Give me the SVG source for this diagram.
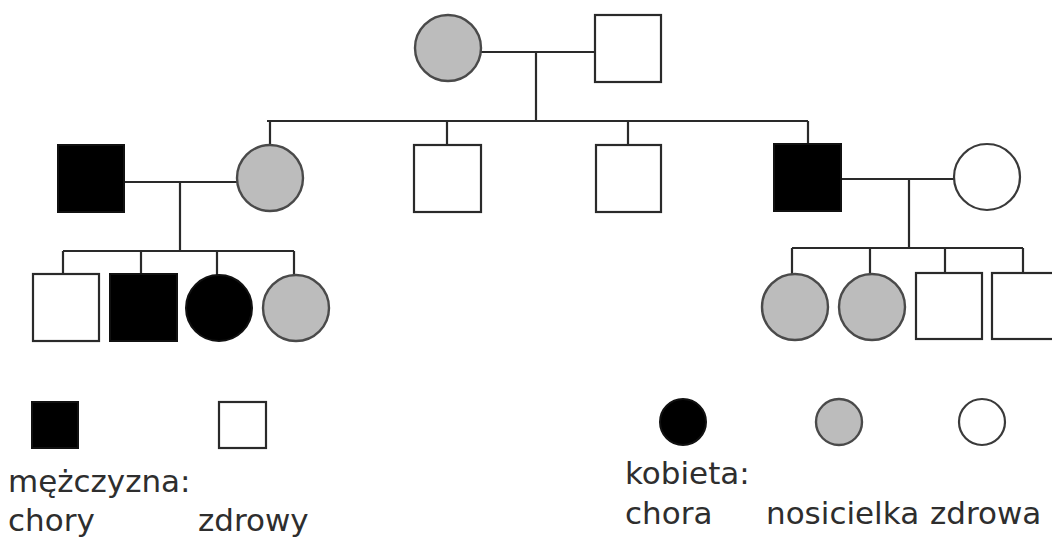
<svg xmlns="http://www.w3.org/2000/svg" width="1052" height="537" viewBox="0 0 1052 537">
<style>
.ln{stroke:#2a2a2a;stroke-width:2.2;fill:none}
.sq{fill:#fff;stroke:#2a2a2a;stroke-width:2.2}
.sqb{fill:#000;stroke:#111;stroke-width:2}
.cg{fill:#bcbcbc;stroke:#4a4a4a;stroke-width:2.4}
.cw{fill:#fff;stroke:#3a3a3a;stroke-width:2.2}
.cb{fill:#000;stroke:#111;stroke-width:2}
.t{font-family:"DejaVu Sans",sans-serif;font-size:31px;fill:#2e2e2e}
</style>
<rect width="1052" height="537" fill="#fff"/>
<g id="connectors">
<path class="ln" d="M481 52H594M536 52V121M267 121H808M270 121V145M447 121V145M628 121V145M808 121V144"/>
<path class="ln" d="M125 182H237M180 182V251M63 251H294M63 251V274M141 251V274M217 251V275M294 251V275"/>
<path class="ln" d="M841 179H954M909 179V248M792 248H1023M792 248V274M870 248V274M945 248V273M1023 248V273"/>
</g>
<g id="grandmother"><circle class="cg" cx="448" cy="48" r="33"/></g>
<g id="grandfather"><rect class="sq" x="595" y="15" width="66" height="67"/></g>
<g id="father1"><rect class="sqb" x="58" y="145" width="66" height="67"/></g>
<g id="mother1"><circle class="cg" cx="270" cy="178" r="33"/></g>
<g id="uncle1"><rect class="sq" x="414" y="145" width="67" height="67"/></g>
<g id="uncle2"><rect class="sq" x="596" y="145" width="65" height="67"/></g>
<g id="father2"><rect class="sqb" x="774" y="144" width="67" height="67"/></g>
<g id="mother2"><circle class="cw" cx="987" cy="177" r="33"/></g>
<g id="c1"><rect class="sq" x="33" y="274" width="66" height="67"/></g>
<g id="c2"><rect class="sqb" x="110" y="274" width="67" height="67"/></g>
<g id="c3"><circle class="cb" cx="219" cy="308" r="33"/></g>
<g id="c4"><circle class="cg" cx="296" cy="308" r="33"/></g>
<g id="c5"><circle class="cg" cx="795" cy="307" r="33"/></g>
<g id="c6"><circle class="cg" cx="872" cy="307" r="33"/></g>
<g id="c7"><rect class="sq" x="916" y="273" width="66" height="66"/></g>
<g id="c8"><rect class="sq" x="992" y="273" width="66" height="66"/></g>
<g id="legend">
<rect class="sqb" x="32" y="402" width="46" height="46"/>
<rect class="sq" x="219" y="402" width="47" height="46"/>
<circle class="cb" cx="683" cy="422" r="23"/>
<circle class="cg" cx="839" cy="422" r="23"/>
<circle class="cw" cx="982" cy="422" r="23"/>
<text class="t" x="8" y="492">mężczyzna:</text>
<text class="t" x="8" y="531">chory</text>
<text class="t" x="198" y="531">zdrowy</text>
<text class="t" x="625" y="484">kobieta:</text>
<text class="t" x="625" y="524">chora</text>
<text class="t" x="766" y="524">nosicielka</text>
<text class="t" x="930" y="524">zdrowa</text>
</g>
</svg>
